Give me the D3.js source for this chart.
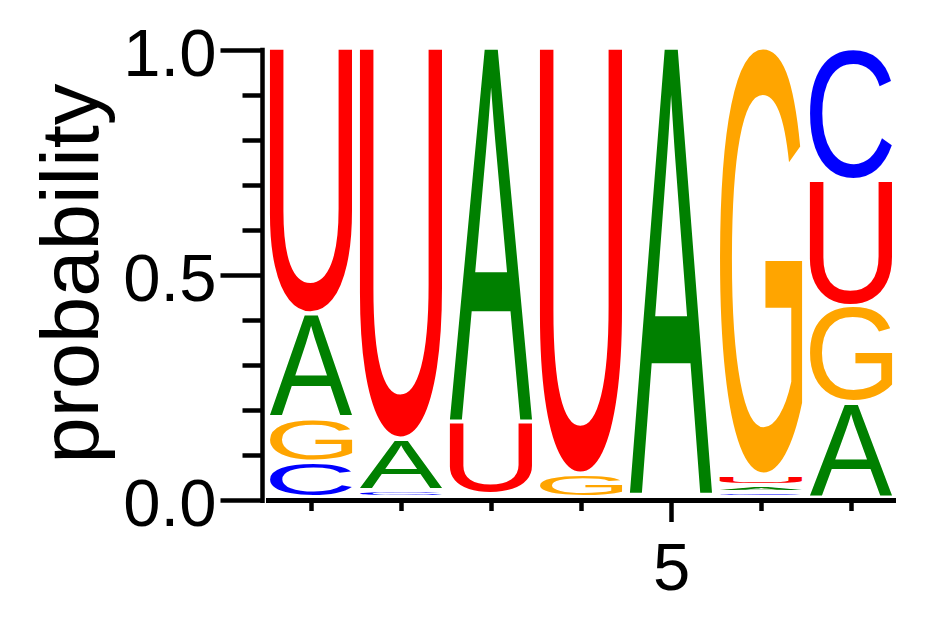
<!DOCTYPE html>
<html><head><meta charset="utf-8">
<script src="https://cdn.jsdelivr.net/npm/d3@7"></script>
<style>html,body{margin:0;padding:0;background:#fff;} svg{display:block;}</style>
</head><body>
<svg id="chart" width="942" height="617"></svg>
<script>
// ---- data ----
const positions = [1, 2, 3, 4, 5, 6, 7];
const letters = ["A", "C", "G", "U"];
const probA = [0.231, 0.115, 0.831, 0.000, 0.994, 0.015, 0.211];
const probC = [0.080, 0.016, 0.000, 0.000, 0.000, 0.012, 0.293];
const probG = [0.098, 0.000, 0.008, 0.053, 0.000, 0.949, 0.216];
const probU = [0.591, 0.869, 0.161, 0.947, 0.006, 0.024, 0.280];
const yMajorTicks = [0.0, 0.5, 1.0];
const yMinorTicks = [0.1, 0.2, 0.3, 0.4, 0.6, 0.7, 0.8, 0.9];
const xMinorTicks = [1, 2, 3, 4, 6, 7];
const xMajorTicks = [5];
const yLabel = "probability";

const colors = {A: "#008000", C: "#0000ff", G: "#ffa500", U: "#ff0000"};
const probs = {A: probA, C: probC, G: probG, U: probU};
const FONT = "'Liberation Sans', Arial, Helvetica, sans-serif";

const svg = d3.select("#chart");
const x = d3.scaleLinear().domain([0.5, 7.5]).range([266, 896]);
const y = d3.scaleLinear().domain([0, 1]).range([500, 50]);

// ---- glyph ink bounds by pixel scan ----
const MF = 400, CW = 700, CH = 700, OX = 150, OY = 550;
const cv = document.createElement("canvas");
cv.width = CW; cv.height = CH;
const ctx = cv.getContext("2d", {willReadFrequently: true});
const metrics = {};
letters.forEach(ch => {
  ctx.clearRect(0, 0, CW, CH);
  ctx.font = MF + "px " + FONT;
  ctx.fillStyle = "#000";
  ctx.textBaseline = "alphabetic";
  ctx.fillText(ch, OX, OY);
  const data = ctx.getImageData(0, 0, CW, CH).data;
  let x0 = CW, x1 = -1, y0 = CH, y1 = -1;
  for (let yy = 0; yy < CH; yy++) for (let xx = 0; xx < CW; xx++) {
    if (data[(yy * CW + xx) * 4 + 3] > 100) {
      if (xx < x0) x0 = xx; if (xx > x1) x1 = xx;
      if (yy < y0) y0 = yy; if (yy > y1) y1 = yy;
    }
  }
  metrics[ch] = {l: OX - x0, r: x1 + 1 - OX, a: OY - y0, d: y1 + 1 - OY};
});

// ---- letters ----
const halfW = 41, bottomGap = 4.5;
const gL = svg.append("g");
positions.forEach((pos, i) => {
  const stack = letters.map(ch => ({ch, p: probs[ch][i]})).filter(d => d.p > 0)
    .sort((a, b) => a.p - b.p);
  let cum = 0;
  stack.forEach(d => {
    const top = y(cum + d.p), bot = y(cum) - bottomGap;
    cum += d.p;
    const h = bot - top;
    if (h < 0.3) return;
    const mt = metrics[d.ch];
    const x0 = x(pos) - halfW, w = 2 * halfW;
    const sx = w / (mt.l + mt.r), sy = h / (mt.a + mt.d);
    const tx = x0 + mt.l * sx, ty = top + mt.a * sy;
    gL.append("text")
      .attr("font-family", FONT).attr("font-size", MF)
      .attr("fill", colors[d.ch])
      .attr("transform", `translate(${tx},${ty}) scale(${sx},${sy})`)
      .text(d.ch);
  });
});

// ---- y axis ----
const yMaj = svg.append("g").attr("transform", "translate(262.5,0)")
  .call(d3.axisLeft(y).tickValues(yMajorTicks).tickSize(42).tickPadding(4)
        .tickFormat(d3.format(".1f")));
const yMin = svg.append("g").attr("transform", "translate(262.5,0)")
  .call(d3.axisLeft(y).tickValues(yMinorTicks).tickSize(20).tickFormat(""));
[yMaj, yMin].forEach(g => {
  g.select(".domain").remove();
  g.selectAll(".tick line").attr("stroke", "#000").attr("stroke-width", 4.5);
});
yMaj.selectAll(".tick text").attr("font-family", FONT).attr("font-size", 67)
  .attr("fill", "#000").attr("dy", "0.38em");
svg.append("line").attr("x1", 262.5).attr("x2", 262.5)
  .attr("y1", y(1) - 2.3).attr("y2", 503).attr("stroke", "#000").attr("stroke-width", 4.5);

// ---- x axis ----
const xMin = svg.append("g").attr("transform", "translate(0,500.5)")
  .call(d3.axisBottom(x).tickValues(xMinorTicks).tickSize(10.5).tickFormat(""));
const xMaj = svg.append("g").attr("transform", "translate(0,500.5)")
  .call(d3.axisBottom(x).tickValues(xMajorTicks).tickSize(21.5).tickPadding(20)
        .tickFormat(d3.format("d")));
[xMin, xMaj].forEach(g => {
  g.select(".domain").remove();
  g.selectAll(".tick line").attr("stroke", "#000").attr("stroke-width", 4.5);
});
xMaj.selectAll(".tick text").attr("font-family", FONT).attr("font-size", 67).attr("fill", "#000");
svg.append("line").attr("x1", x(0.5)).attr("x2", x(7.5))
  .attr("y1", 500.5).attr("y2", 500.5).attr("stroke", "#000").attr("stroke-width", 5);

// ---- y label ----
svg.append("text")
  .attr("transform", "translate(98,273.5) rotate(-90)")
  .attr("text-anchor", "middle")
  .attr("font-family", FONT).attr("font-size", 82)
  .attr("textLength", 380).attr("lengthAdjust", "spacingAndGlyphs")
  .text(yLabel);
</script>
</body></html>
